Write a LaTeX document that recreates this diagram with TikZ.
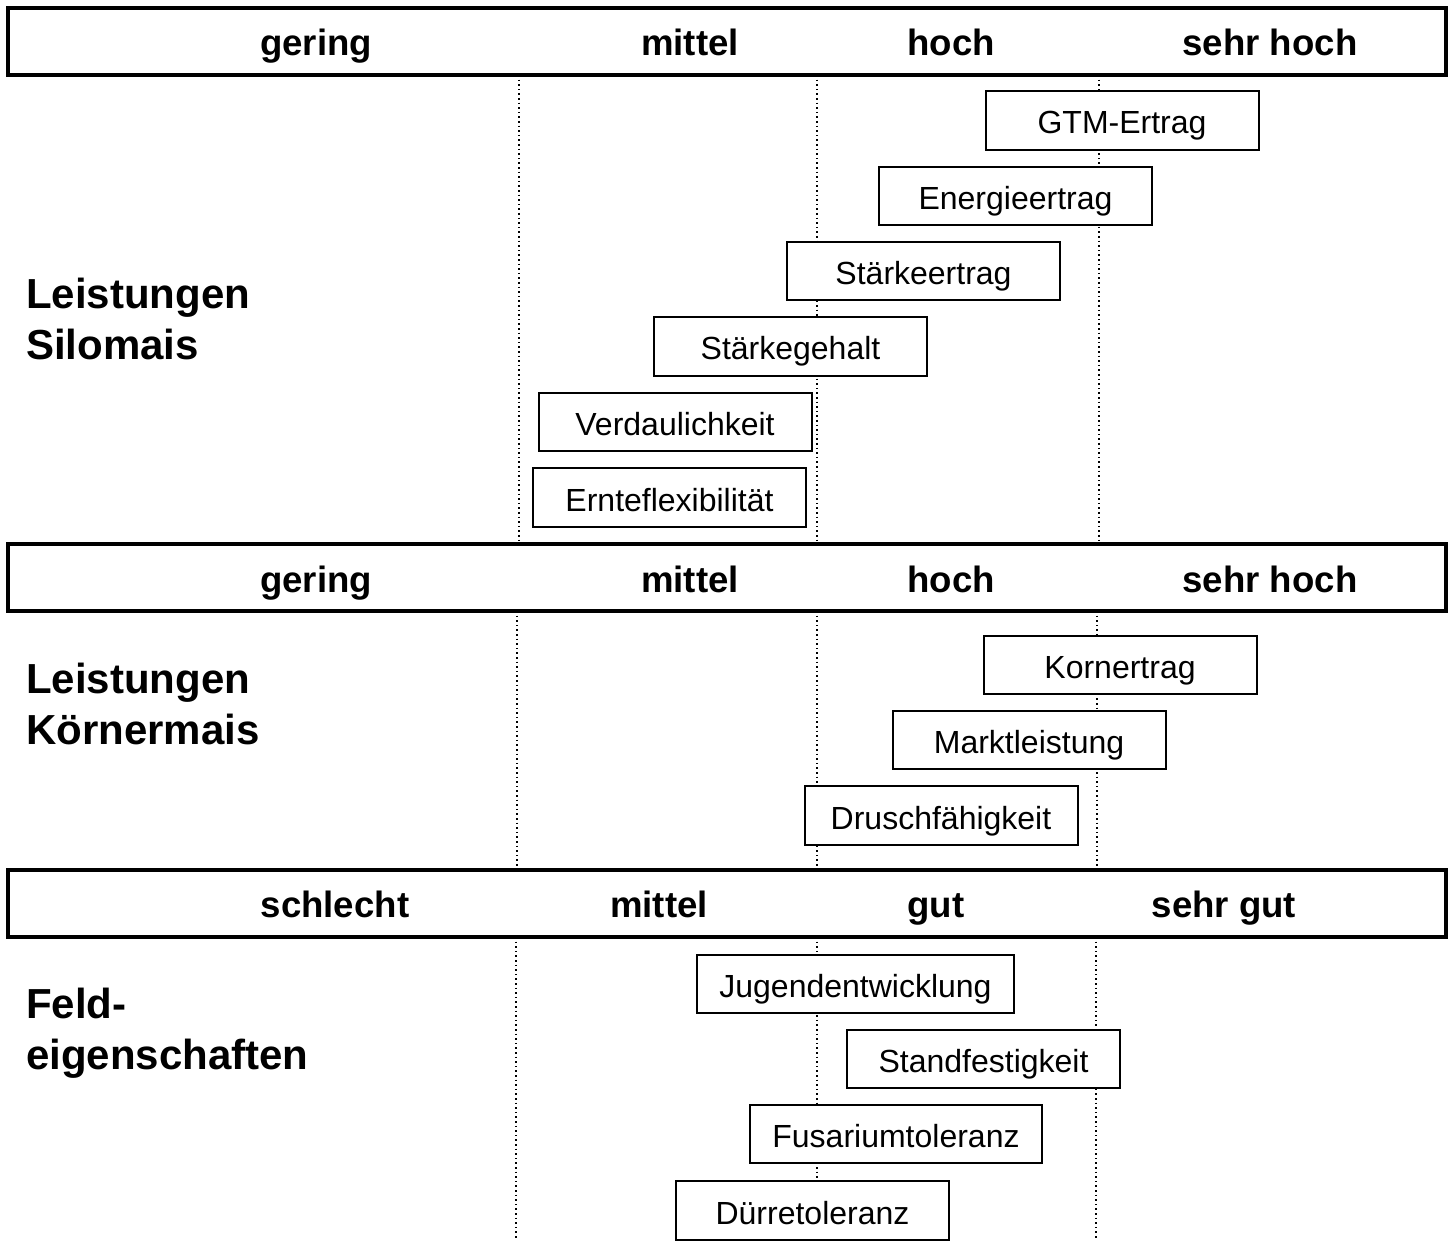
\documentclass[tikz,border=0pt]{standalone}
\usepackage{fontspec}
\setmainfont{Liberation Sans}
\usetikzlibrary{shapes}

\tikzset{
  bar/.style={draw, line width=2pt, fill=white, minimum width=719pt, minimum height=33.5pt, inner sep=0pt},
  scalelabel/.style={anchor=base, font=\fontsize{18.3}{22}\selectfont\bfseries},
  group/.style={anchor=base west, align=left, font=\fontsize{21}{25.5}\selectfont\bfseries},
  item/.style={draw, line width=1pt, fill=white, minimum width=136.5pt, minimum height=29.25pt, inner xsep=11pt, inner ysep=0pt, text height=13.5pt, text depth=0pt, font=\fontsize{16}{19}\selectfont},
  guide/.style={line width=0.8pt, dash pattern=on 0.8pt off 1.5pt}
}

\begin{document}
\begin{tikzpicture}[x=0.5pt, y=-0.5pt]
\useasboundingbox (0,0) rectangle (1452,1246);
% dotted scale lines
\draw [guide] (519,75) -- (519,544);
\draw [guide] (817,75) -- (817,544);
\draw [guide] (1099,75) -- (1099,544);
\draw [guide] (517,611) -- (517,869);
\draw [guide] (817,611) -- (817,869);
\draw [guide] (1097,611) -- (1097,869);
\draw [guide] (516,937) -- (516,1240);
\draw [guide] (817,937) -- (817,1240);
\draw [guide] (1096,937) -- (1096,1240);
% scale bars
\node [bar] (BAR1) at (727,41.5) {};
\node [bar] (BAR2) at (727,577.5) {};
\node [bar] (BAR3) at (727,903) {};
\node [scalelabel] (GERING1) at (316,56) {gering};
\node [scalelabel] (MITTEL1) at (690,56) {mittel};
\node [scalelabel] (HOCH1) at (951,56) {hoch};
\node [scalelabel] (SEHRHOCH1) at (1270,56) {sehr hoch};
\node [scalelabel] (GERING2) at (316,592) {gering};
\node [scalelabel] (MITTEL2) at (690,592) {mittel};
\node [scalelabel] (HOCH2) at (951,592) {hoch};
\node [scalelabel] (SEHRHOCH2) at (1270,592) {sehr hoch};
\node [scalelabel] (SCHLECHT) at (335,917.5) {schlecht};
\node [scalelabel] (MITTEL3) at (659,917.5) {mittel};
\node [scalelabel] (GUT) at (936,917.5) {gut};
\node [scalelabel] (SEHRGUT) at (1224,917.5) {sehr gut};
% groups
\node [group] (SILO) at (19,360) {Leistungen\\Silomais};
\node [group] (KOERNER) at (19,744) {Leistungen\\Körnermais};
\node [group] (FELD) at (19,1069) {Feld-\\eigenschaften};
% Silomais
\node [item] (GTM) at (1122,120.5) {GTM-Ertrag};
\node [item] (ENERGIE) at (1015.5,196) {Energieertrag};
\node [item] (STAERKEERTRAG) at (923.5,271) {Stärkeertrag};
\node [item] (STAERKEGEHALT) at (790.5,346.5) {Stärkegehalt};
\node [item] (VERDAU) at (675,422) {Verdaulichkeit};
\node [item] (ERNTE) at (669.5,497.5) {Ernteflexibilität};
% Koernermais
\node [item] (KORN) at (1120,665) {Kornertrag};
\node [item] (MARKT) at (1029,740) {Marktleistung};
\node [item] (DRUSCH) at (941,815.5) {Druschfähigkeit};
% Feldeigenschaften
\node [item] (JUGEND) at (855.5,984) {Jugendentwicklung};
\node [item] (STAND) at (983.5,1059) {Standfestigkeit};
\node [item] (FUSARIUM) at (896,1134) {Fusariumtoleranz};
\node [item] (DUERRE) at (812.5,1210.5) {Dürretoleranz};
\end{tikzpicture}
\end{document}
